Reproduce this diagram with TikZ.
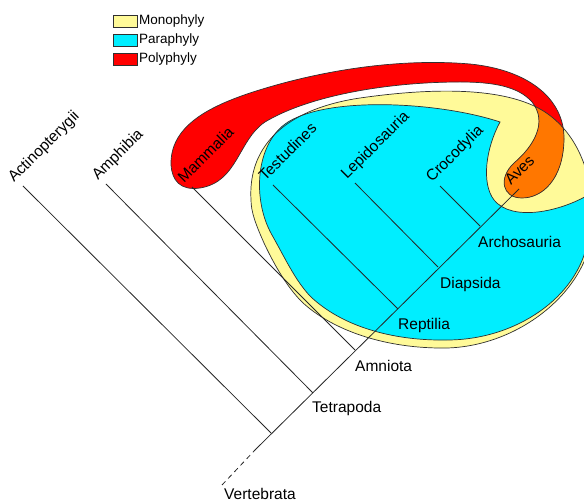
\documentclass[tikz,border=0pt]{standalone}
\usepackage{fontspec}
\setmainfont{Liberation Sans}
\definecolor{mono}{HTML}{FFFA99}
\definecolor{para}{HTML}{00EEFF}
\definecolor{poly}{HTML}{FF0000}
\definecolor{both}{HTML}{FF7700}
\definecolor{edge}{HTML}{303030}
\tikzset{
  lbl/.style={font=\fontsize{15.5}{18}\selectfont, inner sep=0pt},
  leaflbl/.style={lbl, rotate=45, anchor=base west},
  leglbl/.style={font=\fontsize{13.5}{16}\selectfont, inner sep=0pt, anchor=west},
  legbox/.style={draw=edge, line width=0.8pt},
  branch/.style={draw=black!85, line width=0.8pt},
  outline/.style={draw=edge, line width=0.7pt},
}
\begin{document}
\begin{tikzpicture}[x=1pt,y=-1pt]
\useasboundingbox (0,0) rectangle (584,502);
\clip (0,0) rectangle (584,502);
% shapes
\def\yellowpath{(251,200) .. controls (248,150) and (280,110) .. (360,98)
  .. controls (430,88) and (505,86) .. (545,112)
  .. controls (578,134) and (594,175) .. (593,225)
  .. controls (590,290) and (520,346) .. (447,348)
  .. controls (385,349) and (332,330) .. (302,302)
  .. controls (285,285) and (272,260) .. (264,243)
  .. controls (256,225) and (251,212) .. (251,200) -- cycle}
\def\cyanpath{(500,122) .. controls (440,102) and (330,96) .. (288,122)
  .. controls (255,143) and (252,200) .. (272,235)
  .. controls (285,258) and (295,280) .. (310,296)
  .. controls (340,325) and (390,341) .. (447,340)
  .. controls (515,340) and (578,298) .. (588,240)
  -- (590,194)
  .. controls (560,212) and (512,222) .. (494,200)
  .. controls (481,183) and (486,148) .. (500,122) -- cycle}
\def\redpath{(171,165) .. controls (170,128) and (205,108) .. (250,93)
  .. controls (320,70) and (400,58) .. (470,64)
  .. controls (530,70) and (565,100) .. (564,140)
  .. controls (563,180) and (542,198) .. (522,198)
  .. controls (502,198) and (498,178) .. (514,163)
  .. controls (534,146) and (548,122) .. (532,102)
  .. controls (518,86) and (492,82) .. (460,82)
  .. controls (390,82) and (310,95) .. (265,122)
  .. controls (238,140) and (238,182) .. (200,188)
  .. controls (180,191) and (172,180) .. (171,165) -- cycle}
\fill[mono] \yellowpath;
\fill[para] \cyanpath;
\draw[outline] \cyanpath;
\fill[poly] \redpath;
\begin{scope}
  \clip \yellowpath;
  \fill[both] \redpath;
\end{scope}
\draw[outline] \yellowpath;
\draw[outline] \redpath;
% tree coordinates
\coordinate (vEnd) at (222,485);
\coordinate (vSolid) at (255,450);
\coordinate (jAct) at (271,433);
\coordinate (jTet) at (313,393);
\coordinate (jAmn) at (355,350);
\coordinate (jRep) at (398,309);
\coordinate (jDia) at (438,267);
\coordinate (jArc) at (480,226);
\coordinate (lAct) at (23,186);
\coordinate (lAmp) at (106,184);
\coordinate (lMam) at (192,187);
\coordinate (lTes) at (273,185);
\coordinate (lLep) at (355,183);
\coordinate (lCro) at (440,186);
\coordinate (lAve) at (519,189);
% branches
\draw[branch, dash pattern=on 5pt off 4pt] (vEnd) -- (vSolid);
\draw[branch] (vSolid) -- (lAve);
\draw[branch] (jAct) -- (lAct);
\draw[branch] (jTet) -- (lAmp);
\draw[branch] (jAmn) -- (lMam);
\draw[branch] (jRep) -- (lTes);
\draw[branch] (jDia) -- (lLep);
\draw[branch] (jArc) -- (lCro);
% leaf labels
\node[leaflbl] (tAct) at ([shift={(-9,-3)}]lAct) {Actinopterygii};
\node[leaflbl] (tAmp) at ([shift={(-8,-3)}]lAmp) {Amphibia};
\node[leaflbl] (tMam) at ([shift={(-8,-3)}]lMam) {Mammalia};
\node[leaflbl] (tTes) at ([shift={(-8,-3)}]lTes) {Testudines};
\node[leaflbl] (tLep) at ([shift={(-8,-3)}]lLep) {Lepidosauria};
\node[leaflbl] (tCro) at ([shift={(-8,-3)}]lCro) {Crocodylia};
\node[leaflbl] (tAve) at ([shift={(-8,-3)}]lAve) {Aves};
% clade labels
\node[lbl, anchor=base west] (cArc) at (478,248) {Archosauria};
\node[lbl, anchor=base west] (cDia) at (440,289) {Diapsida};
\node[lbl, anchor=base west] (cRep) at (398,330) {Reptilia};
\node[lbl, anchor=base west] (cAmn) at (355,372) {Amniota};
\node[lbl, anchor=base west] (cTet) at (312,413) {Tetrapoda};
\node[lbl, anchor=base west] (cVer) at (224,500) {Vertebrata};
% legend
\draw[legbox, fill=mono] (113,15) rectangle (137,27);
\draw[legbox, fill=para] (113,34) rectangle (137,46);
\draw[legbox, fill=poly] (113,53) rectangle (137,65);
\node[leglbl] (gMono) at (139,21) {Monophyly};
\node[leglbl] (gPara) at (139,40) {Paraphyly};
\node[leglbl] (gPoly) at (139,59) {Polyphyly};
\end{tikzpicture}
\end{document}
